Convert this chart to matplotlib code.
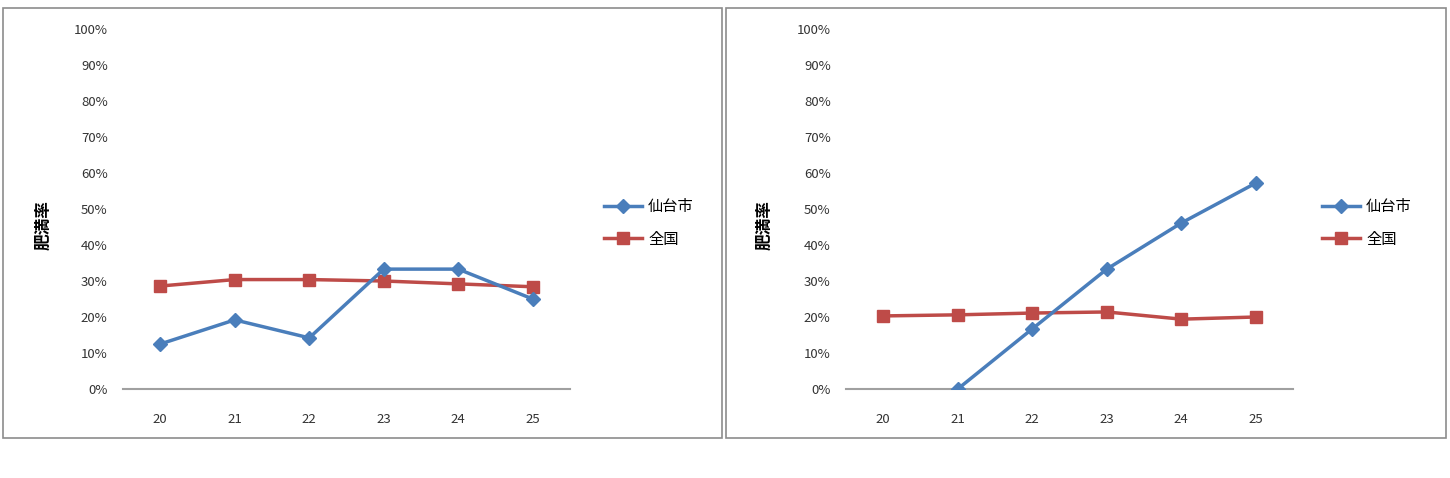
import matplotlib
matplotlib.use("Agg")
import matplotlib.pyplot as plt
from matplotlib.patches import Rectangle
from matplotlib.ticker import PercentFormatter

plt.rcParams['font.family'] = ['Noto Sans CJK JP', 'DejaVu Sans']

years = ['20', '21', '22', '23', '24', '25']
series_names = ['仙台市', '全国']

# left chart
left_city = [12.5, 19.2, 14.2, 33.3, 33.3, 25.0]
left_nation = [28.6, 30.4, 30.4, 30.0, 29.2, 28.4]

# right chart (no value for 20)
right_city = [None, 0.0, 16.7, 33.3, 46.1, 57.2]
right_nation = [20.3, 20.6, 21.1, 21.4, 19.4, 20.0]

blue = '#4A7EBB'
red = '#BE4B48'

fig = plt.figure(figsize=(14.5, 4.78), dpi=100)

# outer chart frames
for x0, w in [(3, 719), (726, 720)]:
    fig.patches.append(Rectangle((x0 / 1450, 1 - 438 / 478), w / 1450, 430 / 478,
                                 transform=fig.transFigure, fill=False,
                                 edgecolor='#8c8c8c', linewidth=1.2))


def draw(ax_left, city, nation, label_x, legend_x):
    ax = fig.add_axes([ax_left / 1450, 1 - 389 / 478, 447 / 1450, 360 / 478])
    xs = list(range(len(years)))
    cx = [x for x, v in zip(xs, city) if v is not None]
    cy = [v for v in city if v is not None]
    ax.plot(xs, nation, color=red, linewidth=2.5, marker='s', markersize=9,
            label=series_names[1], zorder=2)
    ax.plot(cx, cy, color=blue, linewidth=2.5, marker='D', markersize=7.5,
            label=series_names[0], zorder=3)
    ax.set_xlim(-0.5, 5.5)
    ax.set_ylim(0, 100)
    ax.set_yticks(range(0, 101, 10))
    ax.yaxis.set_major_formatter(PercentFormatter(decimals=0))
    ax.set_xticks(xs)
    ax.set_xticklabels(years)
    for s in ['top', 'right', 'left']:
        ax.spines[s].set_visible(False)
    ax.spines['bottom'].set_color('#a0a0a0')
    ax.spines['bottom'].set_linewidth(1.5)
    ax.tick_params(length=0, labelsize=9.5, colors='#333333', pad=11)
    ax.tick_params(axis='x', pad=17)
    fig.text(label_x / 1450, 1 - 225 / 478, '肥満率', rotation=90, fontsize=12,
             fontweight='bold', ha='center', va='center')
    handles, labels = ax.get_legend_handles_labels()
    fig.legend(handles[::-1], labels[::-1], loc='center left',
               bbox_to_anchor=(legend_x / 1450, 1 - 223 / 478), frameon=False,
               fontsize=11, handlelength=2.5, labelspacing=1.0, handletextpad=0.4)
    return ax


draw(123, left_city, left_nation, 43, 590)
draw(846, right_city, right_nation, 764, 1308)

fig.savefig('out.png', dpi=100, facecolor='white')
